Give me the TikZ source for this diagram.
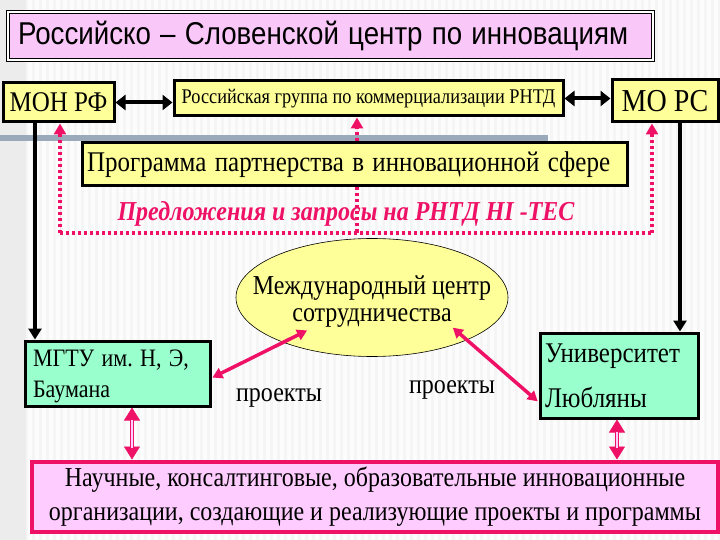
\documentclass[tikz,border=0pt]{standalone}
\usepackage{graphicx}
\usepackage{fontspec}
\setmainfont{Liberation Serif}
\newfontfamily\arialf{Liberation Sans}
\usetikzlibrary{shapes.geometric,arrows.meta}
\definecolor{byellow}{HTML}{FFFF99}
\definecolor{bgreen}{HTML}{99FFCC}
\definecolor{bpink}{HTML}{FFCCFF}
\definecolor{tpink}{HTML}{F9C8F9}
\definecolor{lpink}{HTML}{EE1166}
\definecolor{barblue}{HTML}{9AAABB}
\newcommand\vs[1]{\scalebox{1}[1.14]{#1}}
\frenchspacing
\begin{document}
\begin{tikzpicture}[x=1pt,y=-1pt,
  ybox/.style={draw=black,line width=3pt,fill=byellow,inner sep=0pt,font=\fontsize{#1}{#1}\selectfont},
  gbox/.style={draw=black,line width=3pt,fill=bgreen,inner sep=0pt},
  blk/.style={line width=4pt,-{Triangle[length=11pt,width=13pt]}},
  blkdbl/.style={line width=4pt,{Triangle[length=10pt,width=15pt]}-{Triangle[length=10pt,width=15pt]}},
  pdot/.style={draw=lpink,line width=3.5pt,dash pattern=on 3pt off 3pt},
  ptip/.style={-{Triangle[length=11pt,width=12pt]}},
  pdbl/.style={draw=lpink,line width=3.5pt,{Triangle[length=10pt,width=11pt]}-{Triangle[length=10pt,width=11pt]},shorten <=1pt,shorten >=1pt},
  ptips/.style={draw=lpink,fill=lpink,line width=0.6pt,{Triangle[length=13pt,width=16pt]}-{Triangle[length=13pt,width=16pt]}},
  pshaft/.style={draw=lpink,double=bpink,double distance=1.6pt,line width=1.2pt,shorten <=12pt,shorten >=12pt},
  plain/.style={inner sep=0pt,font=\fontsize{24}{24}\selectfont}
]
\useasboundingbox (0,0) rectangle (720,540);
% background
\fill[gray!8] (0,0) rectangle (720,540);
\foreach \x in {0,7,...,714} \fill[white,opacity=0.7] (\x,0) rectangle (\x+3.5,540);
\fill[gray!15] (0,0) rectangle (26,540);
\fill[barblue] (0,135) rectangle (548,141);

% title
\node[draw=black,double=white,double distance=1.5pt,line width=0.8pt,fill=tpink,
  minimum height=48pt,text width=625pt,inner xsep=10pt,align=left,
  font=\arialf\fontsize{27.7}{27.7}\selectfont] (title) at (330.5,36)
  {\vs{Российско – Словенской центр по инновациям}};

% top row
\node[ybox=25,minimum width=111pt,minimum height=39pt] (mon) at (58.5,102.5) {\vs{МОН РФ}};
\node[ybox=18.3,minimum width=389pt,minimum height=35pt] (grp) at (368.5,98.5) {\vs{Российская группа по коммерциализации РНТД}};
\node[ybox=28,minimum width=106pt,minimum height=42pt] (mors) at (665,101) {\vs{МО РС}};
\draw[blkdbl] (mon.east) -- (grp.west |- mon.east);
\draw[blkdbl] (grp.east) -- (mors.west |- grp.east);

% programme
\node[ybox=25,minimum height=43pt,text width=535pt,inner xsep=5pt,align=left] (prog) at (354.5,164.5)
  {\vs{Программа партнерства в инновационной сфере}};

% proposals text
\node[inner sep=0pt,text=lpink,font=\bfseries\itshape\fontsize{24}{24}\selectfont] (prop) at (346,214)
  {\vs{Предложения и запросы на РНТД HI -TEC}};

% ellipse
\node[ellipse,draw=black,line width=0.6pt,fill=byellow,minimum width=272pt,minimum height=118pt,
  inner sep=0pt] (mic) at (372,297.5) {};
\node[align=center,inner sep=0pt,font=\fontsize{24}{27}\selectfont] (mictext) at (372,302)
  {\vs{Международный центр}\\\vs{сотрудничества}};

% dotted network
\coordinate (dl) at (60,233);
\coordinate (dr) at (652,233);
\coordinate (dm) at (357,233);
\coordinate (bl) at (35,0);
\coordinate (br) at (680,0);
\coordinate (vl) at (132,0);
\coordinate (vr) at (617,0);
\coordinate (a1) at (0,378);
\coordinate (a2) at (308,330);
\coordinate (a3) at (452,327);
\coordinate (a4) at (0,402);
\draw[pdot] (dl) -- (dr);
\draw[pdot] (prog.south -| dm) -- (dm);
\draw[pdot,ptip,fill=lpink] (dl) -- (dl |- mon.south);
\draw[pdot,ptip,fill=lpink] (dr) -- (dr |- mors.south);
\draw[pdot,ptip,fill=lpink] (prog.north -| dm) -- (grp.south -| dm);

% lower boxes
\node[gbox,minimum width=185pt,minimum height=65pt] (mgtu) at (117.5,373.5) {};
\node[text width=170pt,inner sep=0pt,align=left,font=\fontsize{22}{31}\selectfont] (mgtutext) at (118,376)
  {\vs{МГТУ им. Н, Э,}\\\vs{Баумана}};
\node[gbox,minimum width=158pt,minimum height=85pt,text width=148pt,inner xsep=5pt,align=left,
  font=\fontsize{25}{45}\selectfont] (univ) at (619,375.5)
  {\vs{Университет}\\\vs{Любляны}};

\draw[blk] (bl |- mon.south) -- (bl |- mgtu.north);
\draw[blk] (br |- mors.south) -- (br |- univ.north);

\draw[pdbl] (mgtu.east |- a1) -- (a2);
\draw[pdbl] (a3) -- (univ.west |- a4);
\node[plain] (pr1) at (279,398) {\vs{проекты}};
\node[plain] (pr2) at (452,390) {\vs{проекты}};

% bottom
\node[draw=lpink,line width=4pt,fill=bpink,minimum width=686pt,minimum height=70pt,align=center,
  inner sep=0pt,font=\fontsize{24}{34}\selectfont] (org) at (375,496.5)
  {\vs{Научные, консалтинговые, образовательные инновационные}\\\vs{организации, создающие и реализующие проекты и программы}};

\draw[ptips] (vl |- mgtu.south) -- (vl |- org.north);
\draw[pshaft] (vl |- mgtu.south) -- (vl |- org.north);
\draw[ptips] (vr |- univ.south) -- (vr |- org.north);
\draw[pshaft] (vr |- univ.south) -- (vr |- org.north);
\end{tikzpicture}
\end{document}
